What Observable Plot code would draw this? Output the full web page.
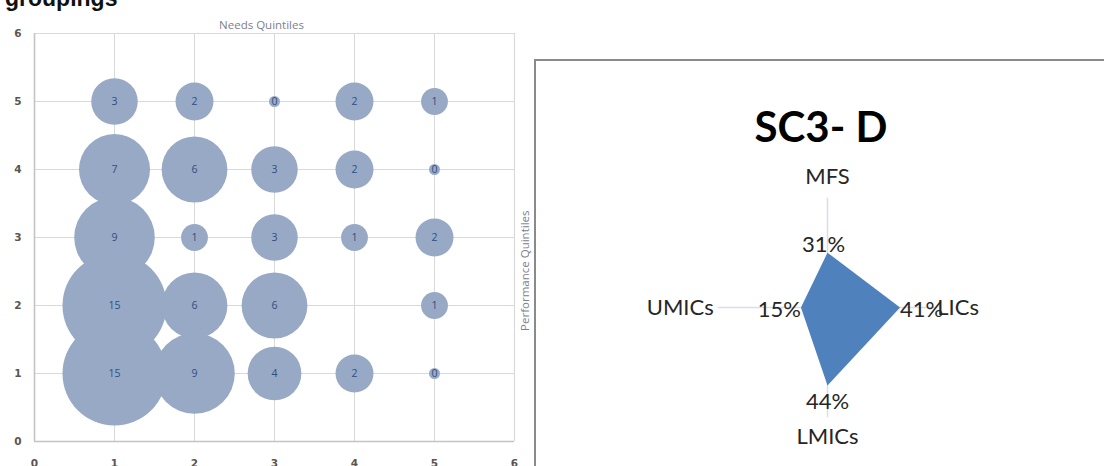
<!DOCTYPE html>
<html>
<head>
<meta charset="utf-8">
<script src="https://cdn.jsdelivr.net/npm/d3@7"></script>
<script src="https://cdn.jsdelivr.net/npm/@observablehq/plot@0.6"></script>
<style>
  html, body { margin: 0; padding: 0; background: #fff; }
  #page { position: relative; width: 1104px; height: 466px; overflow: hidden; background: #fff; }
  #heading { position: absolute; left: 5px; top: -15px; font: bold 23px "Liberation Sans", Arial, sans-serif; color: #111; white-space: nowrap; }
  #bubble { position: absolute; left: 0; top: 0; }
  #box { position: absolute; left: 534px; top: 59px; width: 620px; height: 460px; border: 2px solid #8a8a8a; box-sizing: border-box; }
  #radar { position: absolute; left: 537px; top: 62px; }
</style>
</head>
<body>
<div id="page">
  <div id="heading">groupings</div>
  <div id="bubble"></div>
  <div id="box"></div>
  <div id="radar"></div>
</div>
<script>
// ---- Bubble chart data (Needs quintile on x, Performance quintile on y) ----
const needsQuintiles = [1, 2, 3, 4, 5];
const perfQuintile5 = [3, 2, 0, 2, 1];
const perfQuintile4 = [7, 6, 3, 2, 0];
const perfQuintile3 = [9, 1, 3, 1, 2];
const perfQuintile2 = [15, 6, 6, null, 1];
const perfQuintile1 = [15, 9, 4, 2, 0];
const axisTicks = [0, 1, 2, 3, 4, 5, 6];
const xTitle = "Needs Quintiles";
const yTitle = "Performance Quintiles";

// ---- Radar chart data ----
const radarTitle = "SC3- D";
const radarCategories = ["MFS", "LICs", "LMICs", "UMICs"];
const radarValues = [0.31, 0.41, 0.44, 0.15];
const radarAxisMax = 0.62;

// Build bubble table
const rows = [[1, perfQuintile1], [2, perfQuintile2], [3, perfQuintile3], [4, perfQuintile4], [5, perfQuintile5]];
const bubbles = [];
for (const [py, vals] of rows) {
  vals.forEach((v, i) => { if (v !== null) bubbles.push({x: needsQuintiles[i], y: py, v}); });
}
const bubbleFill = "#97a9c4";
const tickColor = "#5c5450";

const bubblePlot = Plot.plot({
  width: 540, height: 466,
  marginLeft: 34, marginRight: 26, marginTop: 33, marginBottom: 25,
  x: {domain: [0, 6]},
  y: {domain: [0, 6]},
  r: {type: "sqrt", domain: [0, 15], range: [0, 52]},
  style: {fontFamily: "'DejaVu Sans', sans-serif", background: "transparent", overflow: "visible"},
  marks: [
    Plot.gridX([1, 2, 3, 4, 5], {stroke: "#d9d9d9", strokeOpacity: 1, strokeWidth: 1}),
    Plot.gridY([1, 2, 3, 4, 5], {stroke: "#d9d9d9", strokeOpacity: 1, strokeWidth: 1}),
    Plot.ruleY([6], {stroke: "#d9d9d9", strokeWidth: 1.2}),
    Plot.ruleX([6], {stroke: "#d9d9d9", strokeWidth: 1.2}),
    Plot.ruleX([0], {stroke: "#c4c4c4", strokeWidth: 1.6}),
    Plot.ruleY([0], {stroke: "#c4c4c4", strokeWidth: 1.6}),
    Plot.axisX(axisTicks, {tickSize: 0, tickPadding: 18, tickFormat: "d", fontSize: 10.5, fontWeight: "bold", fill: tickColor, label: null}),
    Plot.axisY(axisTicks, {tickSize: 0, tickPadding: 13, tickFormat: "d", fontSize: 10.5, fontWeight: "bold", fill: tickColor, label: null}),
    Plot.dot(bubbles.filter(d => d.v > 0), {x: "x", y: "y", r: "v", fill: bubbleFill, stroke: "none"}),
    Plot.dot(bubbles.filter(d => d.v === 0), {x: "x", y: "y", r: 5.5, fill: bubbleFill, stroke: "none"}),
    Plot.text(bubbles, {x: "x", y: "y", text: d => String(d.v), fill: "#2f4f80", fontSize: 10.5, fontFamily: "'Open Sans', sans-serif"}),
    Plot.text([xTitle], {frameAnchor: "top", dx: -13, dy: -13, fill: "#7d8090", fontSize: 11.5, fontFamily: "'Open Sans', sans-serif"}),
    Plot.text([yTitle], {frameAnchor: "right", dx: 11, dy: -27, rotate: -90, fill: "#7d8090", fontSize: 11.5, fontFamily: "'Open Sans', sans-serif"})
  ]
});
document.getElementById("bubble").appendChild(bubblePlot);

// Radar: clockwise from top
const angles = radarCategories.map((c, i) => Math.PI / 2 - i * Math.PI / 2);
const radarPts = radarCategories.map((c, i) => ({
  cat: c, v: radarValues[i],
  x: radarValues[i] * Math.cos(angles[i]), y: radarValues[i] * Math.sin(angles[i]),
  ax: radarAxisMax * Math.cos(angles[i]), ay: radarAxisMax * Math.sin(angles[i]),
  label: Math.round(radarValues[i] * 100) + "%"
}));
const W = 567, H = 404, cx = 290, cy = 245, k = 177;
const txt = "#262626";
const font = "Lato, 'Open Sans', sans-serif";
const pick = c => radarPts.filter(d => d.cat === c);

const radarPlot = Plot.plot({
  width: W, height: H,
  margin: 0,
  x: {domain: [-cx / k, (W - cx) / k], axis: null},
  y: {domain: [-(H - cy) / k, cy / k], axis: null},
  style: {fontFamily: font, background: "transparent", overflow: "visible"},
  marks: [
    Plot.link(radarPts, {x1: 0, y1: 0, x2: "ax", y2: "ay", stroke: "#d6deea", strokeWidth: 1.5}),
    Plot.line(radarPts, {x: "x", y: "y", curve: "linear-closed", fill: "#4f81bd", stroke: "none"}),
    Plot.text([radarTitle], {frameAnchor: "top", dy: 50, fontSize: 42, fontWeight: "bold", fill: "#000"}),
    // category labels
    Plot.text(pick("MFS"), {x: "ax", y: "ay", text: "cat", lineAnchor: "bottom", dy: -14, fontSize: 22, fill: txt}),
    Plot.text(pick("LICs"), {x: "ax", y: "ay", text: "cat", textAnchor: "start", dx: 0, fontSize: 22, fill: txt}),
    Plot.text(pick("LMICs"), {x: "ax", y: "ay", text: "cat", lineAnchor: "top", dy: 11, fontSize: 22, fill: txt}),
    Plot.text(pick("UMICs"), {x: "ax", y: "ay", text: "cat", textAnchor: "end", dx: -4, fontSize: 22, fill: txt}),
    // value labels
    Plot.text(pick("MFS"), {x: "x", y: "y", text: "label", lineAnchor: "bottom", dx: -4, dy: -1, fontSize: 22, fill: txt}),
    Plot.text(pick("LICs"), {x: "x", y: "y", text: "label", textAnchor: "start", dy: 2, fontSize: 22, fill: txt}),
    Plot.text(pick("LMICs"), {x: "x", y: "y", text: "label", lineAnchor: "top", dy: 8, fontSize: 22, fill: txt}),
    Plot.text(pick("UMICs"), {x: "x", y: "y", text: "label", textAnchor: "end", dy: 2, fontSize: 22, fill: txt})
  ]
});
document.getElementById("radar").appendChild(radarPlot);
</script>
</body>
</html>
